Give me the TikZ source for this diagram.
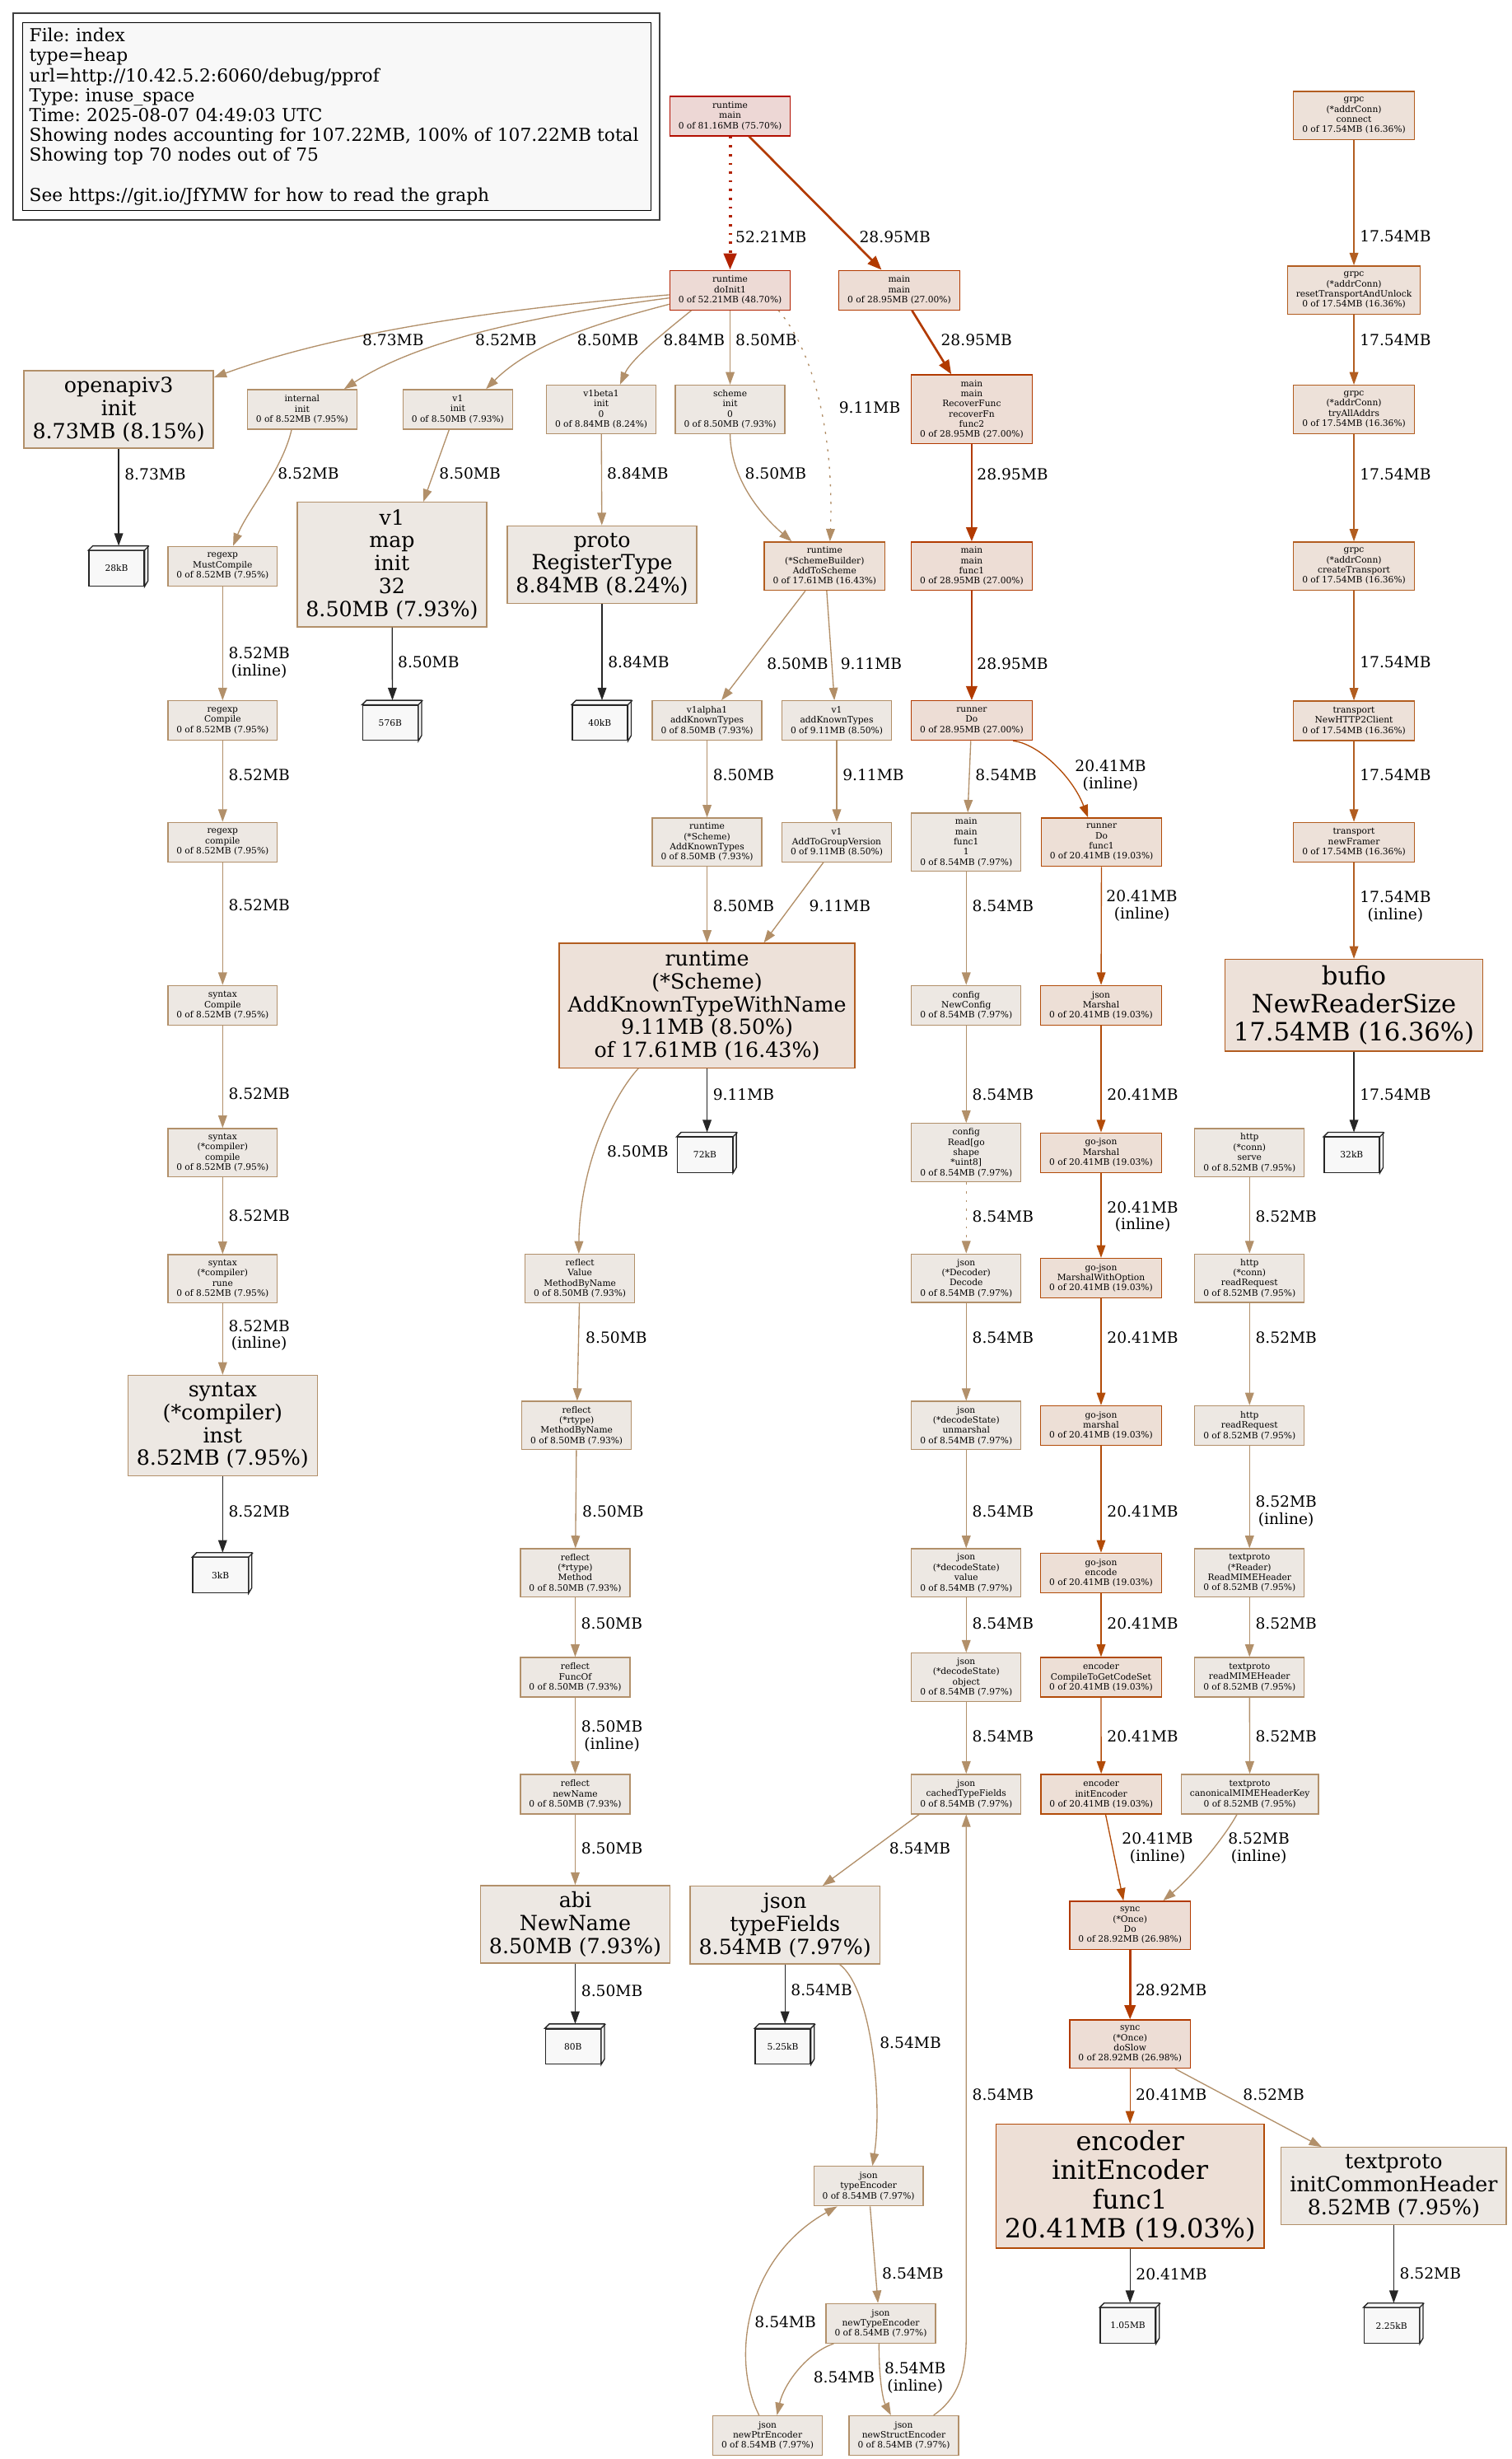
\documentclass[tikz,border=0pt]{standalone}
\usepackage{fontspec}
\setmainfont{DejaVu Serif}
\usetikzlibrary{arrows.meta}
\definecolor{nodelet}{HTML}{F8F8F8}
\definecolor{rmD}{HTML}{B20E00}\definecolor{rmF}{HTML}{EDD7D5}
\definecolor{diD}{HTML}{B22200}\definecolor{diF}{HTML}{EDDAD5}
\definecolor{k27D}{HTML}{B23A00}\definecolor{k27F}{HTML}{EDDDD5}
\definecolor{k19D}{HTML}{B24B08}\definecolor{k19F}{HTML}{EDDFD6}
\definecolor{k16D}{HTML}{B25D20}\definecolor{k16F}{HTML}{EDE1D9}
\definecolor{k8D}{HTML}{B2906A}\definecolor{k8F}{HTML}{EDE8E3}
\definecolor{k9D}{HTML}{B28E66}
\frenchspacing
\newcommand\pfs{\fontsize{5.6}{6.5}\selectfont}
\newcommand\pfl{\fontsize{9.8}{10.8}\selectfont}
\newcommand\pfb{\fontsize{13.3}{14.63}\selectfont}
\newcommand\pfbu{\fontsize{16.1}{17.7}\selectfont}
\newcommand\pfen{\fontsize{16.8}{18.5}\selectfont}
\newcommand\pfleg{\fontsize{11.4}{12.7}\selectfont\frenchspacing}
\tikzset{
  nb/.style={draw, line width=0.7pt, align=center, inner xsep=5.5pt, inner ysep=0pt, minimum width=37.8pt},
  s3/.style={nb, font=\pfs, minimum height=25.2pt},
  s4/.style={nb, font=\pfs, minimum height=30.8pt},
  s5/.style={nb, font=\pfs, minimum height=37.2pt},
  s6/.style={nb, font=\pfs, minimum height=44pt},
  b3/.style={nb, font=\pfb, minimum height=49.4pt},
  b4/.style={nb, font=\pfb, minimum height=64pt},
  b5/.style={nb, font=\pfb, minimum height=79.4pt},
  rm/.style={draw=rmD, fill=rmF},
  di/.style={draw=diD, fill=diF},
  k27/.style={draw=k27D, fill=k27F},
  k19/.style={draw=k19D, fill=k19F},
  k16/.style={draw=k16D, fill=k16F},
  k8/.style={draw=k8D, fill=k8F},
  k9/.style={draw=k9D, fill=k8F},
  cube/.style={draw=black!85, fill=nodelet, line width=0.7pt, font=\pfs, inner sep=0pt, minimum width=35.2pt, minimum height=22.4pt},
  cubeside/.style={draw=black!85, fill=nodelet, line width=0.7pt},
  lab/.style={font=\pfl, inner sep=0pt, anchor=west, align=center},
  ea/.style={line width=0.7pt, -{Triangle[length=8pt,width=5.6pt]}},
  e8/.style={ea, draw=k8D},
  e9/.style={ea, draw=k9D},
  e17/.style={ea, draw=k16D},
  e20/.style={ea, draw=k19D},
  ek/.style={ea, draw=black!85},
  e29/.style={line width=1.4pt, draw=k27D, -{Triangle[length=9pt,width=7pt]}},
  e52/.style={line width=2.1pt, draw=diD, -{Triangle[length=10.5pt,width=8pt]}},
  dots/.style={dash pattern=on 1.4pt off 4.2pt},
}
\newcommand\pcube[4]{%
  \node[cube] (#1) at ({#2-1.4},{#3+1.4}) {#4};
  \filldraw[cubeside] (#1.north west) -- ++(2.8,-2.8) -- ++(35.2,0) -- ++(0,22.4) -- (#1.south east) -- (#1.north east) -- cycle;
  \draw[cubeside] (#1.north east) -- ++(2.8,-2.8);
}
\begin{document}
\begin{tikzpicture}[x=1pt,y=-1pt]
\fill[white] (0,0) rectangle (964,1568);
\useasboundingbox (0,0) rectangle (964,1568);

% legend
\node[draw=black, fill=nodelet, line width=0.7pt, anchor=north west, align=left, text width=392pt, inner xsep=4.4pt, inner ysep=0pt, minimum height=120pt, font=\pfleg] (legend) at (14,14) {File: index\\type=heap\\url=http://10.42.5.2:6060/debug/pprof\\Type: inuse\_space\\Time: 2025-08-07 04:49:03 UTC\\Showing nodes accounting for 107.22MB, 100\% of 107.22MB total\\Showing top 70 nodes out of 75\\[12.7pt]See https://git.io/JfYMW for how to read the graph};
\draw[black!75, line width=0.9pt] ([shift={(-5.6,-5.6)}]legend.north west) rectangle ([shift={(5.4,5.4)}]legend.south east);

% nodes
\node[s3,rm] (rmain) at (465.7,74) {runtime\\main\\0 of 81.16MB (75.70\%)};
\node[s3,di] (doinit) at (465.7,185) {runtime\\doInit1\\0 of 52.21MB (48.70\%)};
\node[s3,k27] (mainmain) at (573.6,185) {main\\main\\0 of 28.95MB (27.00\%)};
\node[s4,k16] (connect) at (863.6,73.7) {grpc\\(*addrConn)\\connect\\0 of 17.54MB (16.36\%)};
\node[s4,k16] (reset) at (863.6,185) {grpc\\(*addrConn)\\resetTransportAndUnlock\\0 of 17.54MB (16.36\%)};
\node[b3,k8] (openapi) at (75.7,261) {openapiv3\\init\\8.73MB (8.15\%)};
\node[s3,k8] (internal) at (192.7,261) {internal\\init\\0 of 8.52MB (7.95\%)};
\node[s3,k8] (v1init) at (292,261) {v1\\init\\0 of 8.50MB (7.93\%)};
\node[s4,k8] (v1beta) at (383.5,261) {v1beta1\\init\\0\\0 of 8.84MB (8.24\%)};
\node[s4,k8] (scheme) at (465.7,261) {scheme\\init\\0\\0 of 8.50MB (7.93\%)};
\node[s6,k27] (func2) at (619.8,261) {main\\main\\RecoverFunc\\recoverFn\\func2\\0 of 28.95MB (27.00\%)};
\node[s4,k16] (tryall) at (863.6,261) {grpc\\(*addrConn)\\tryAllAddrs\\0 of 17.54MB (16.36\%)};
\pcube{c28}{75.7}{361}{28kB}
\node[s3,k8] (mustc) at (142,361) {regexp\\MustCompile\\0 of 8.52MB (7.95\%)};
\node[b5,k8] (map) at (250,360) {v1\\map\\init\\32\\8.50MB (7.93\%)};
\node[b3,k8] (proto) at (384,360) {proto\\RegisterType\\8.84MB (8.24\%)};
\node[s4,k16] (addsch) at (526,361) {runtime\\(*SchemeBuilder)\\AddToScheme\\0 of 17.61MB (16.43\%)};
\node[s4,k27] (mfunc1) at (619.8,361) {main\\main\\func1\\0 of 28.95MB (27.00\%)};
\node[s4,k16] (createt) at (863.6,361) {grpc\\(*addrConn)\\createTransport\\0 of 17.54MB (16.36\%)};
\node[s3,k8] (recomp) at (142,459.5) {regexp\\Compile\\0 of 8.52MB (7.95\%)};
\pcube{c576}{250.3}{459.5}{576B}
\pcube{c40}{384}{459.5}{40kB}
\node[s3,k8] (v1alpha) at (451,459.5) {v1alpha1\\addKnownTypes\\0 of 8.50MB (7.93\%)};
\node[s3,k9] (v1akt) at (533.7,459.5) {v1\\addKnownTypes\\0 of 9.11MB (8.50\%)};
\node[s3,k27] (rundo) at (619.8,459.5) {runner\\Do\\0 of 28.95MB (27.00\%)};
\node[s3,k16] (http2) at (863.6,459.6) {transport\\NewHTTP2Client\\0 of 17.54MB (16.36\%)};
\node[s3,k8] (recomp2) at (142,537) {regexp\\compile\\0 of 8.52MB (7.95\%)};
\node[s4,k8] (akt) at (451,537) {runtime\\(*Scheme)\\AddKnownTypes\\0 of 8.50MB (7.93\%)};
\node[s3,k9] (atgv) at (533.7,537) {v1\\AddToGroupVersion\\0 of 9.11MB (8.50\%)};
\node[s5,k8] (mf11) at (616.3,537) {main\\main\\func1\\1\\0 of 8.54MB (7.97\%)};
\node[s4,k19] (rdf1) at (702.6,537) {runner\\Do\\func1\\0 of 20.41MB (19.03\%)};
\node[s3,k16] (framer) at (863.6,537) {transport\\newFramer\\0 of 17.54MB (16.36\%)};
\node[s3,k8] (sxcomp) at (142,641) {syntax\\Compile\\0 of 8.52MB (7.95\%)};
\node[b5,k16] (aktwn) at (451,641.2) {runtime\\(*Scheme)\\AddKnownTypeWithName\\9.11MB (8.50\%)\\of 17.61MB (16.43\%)};
\node[s3,k8] (newcfg) at (616.3,641) {config\\NewConfig\\0 of 8.54MB (7.97\%)};
\node[s3,k19] (jmarsh) at (702.3,641) {json\\Marshal\\0 of 20.41MB (19.03\%)};
\node[nb,k16,font=\pfbu,minimum height=58.6pt] (bufio) at (863.6,641) {bufio\\NewReaderSize\\17.54MB (16.36\%)};
\node[s4,k8] (cccomp) at (142,735) {syntax\\(*compiler)\\compile\\0 of 8.52MB (7.95\%)};
\pcube{c72}{451}{735}{72kB}
\node[s5,k8] (cfgread) at (616.3,735) {config\\Read[go\\shape\\{}*uint8]\\0 of 8.54MB (7.97\%)};
\node[s3,k19] (gjm) at (702.3,735) {go-json\\Marshal\\0 of 20.41MB (19.03\%)};
\node[s4,k8] (serve) at (797,735) {http\\(*conn)\\serve\\0 of 8.52MB (7.95\%)};
\pcube{c32}{863.6}{735}{32kB}
\node[s4,k8] (rune) at (142,815.4) {syntax\\(*compiler)\\rune\\0 of 8.52MB (7.95\%)};
\node[s4,k8] (rvmbn) at (369.9,815.2) {reflect\\Value\\MethodByName\\0 of 8.50MB (7.93\%)};
\node[s4,k8] (decode) at (616.3,815) {json\\(*Decoder)\\Decode\\0 of 8.54MB (7.97\%)};
\node[s3,k19] (mwo) at (702.3,815) {go-json\\MarshalWithOption\\0 of 20.41MB (19.03\%)};
\node[s4,k8] (connrr) at (797,815) {http\\(*conn)\\readRequest\\0 of 8.52MB (7.95\%)};
\node[b4,k8] (inst) at (142,909) {syntax\\(*compiler)\\inst\\8.52MB (7.95\%)};
\node[s4,k8] (rtmbn) at (367.8,909) {reflect\\(*rtype)\\MethodByName\\0 of 8.50MB (7.93\%)};
\node[s4,k8] (unmarsh) at (616.3,909) {json\\(*decodeState)\\unmarshal\\0 of 8.54MB (7.97\%)};
\node[s3,k19] (gjm2) at (702.3,909) {go-json\\marshal\\0 of 20.41MB (19.03\%)};
\node[s3,k8] (httprr) at (797,909) {http\\readRequest\\0 of 8.52MB (7.95\%)};
\pcube{c3}{142}{1003}{3kB}
\node[s4,k8] (rtmeth) at (366.9,1003) {reflect\\(*rtype)\\Method\\0 of 8.50MB (7.93\%)};
\node[s4,k8] (jvalue) at (616.3,1003) {json\\(*decodeState)\\value\\0 of 8.54MB (7.97\%)};
\node[s3,k19] (gjenc) at (702.3,1003) {go-json\\encode\\0 of 20.41MB (19.03\%)};
\node[s4,k8] (rmime) at (797,1003) {textproto\\(*Reader)\\ReadMIMEHeader\\0 of 8.52MB (7.95\%)};
\node[s3,k8] (funcof) at (366.9,1069.5) {reflect\\FuncOf\\0 of 8.50MB (7.93\%)};
\node[s4,k8] (jobject) at (616.3,1069.5) {json\\(*decodeState)\\object\\0 of 8.54MB (7.97\%)};
\node[s3,k19] (ctgcs) at (702.3,1069.5) {encoder\\CompileToGetCodeSet\\0 of 20.41MB (19.03\%)};
\node[s3,k8] (rmime2) at (797,1069.5) {textproto\\readMIMEHeader\\0 of 8.52MB (7.95\%)};
\node[s3,k8] (newname) at (366.9,1144) {reflect\\newName\\0 of 8.50MB (7.93\%)};
\node[s3,k8] (ctf) at (616.3,1144) {json\\cachedTypeFields\\0 of 8.54MB (7.97\%)};
\node[s3,k19] (initenc) at (702.4,1144) {encoder\\initEncoder\\0 of 20.41MB (19.03\%)};
\node[s3,k8] (canon) at (797.2,1144) {textproto\\canonicalMIMEHeaderKey\\0 of 8.52MB (7.95\%)};
\node[b3,k8] (abi) at (366.9,1227) {abi\\NewName\\8.50MB (7.93\%)};
\node[b3,k8] (typefields) at (500.7,1227.5) {json\\typeFields\\8.54MB (7.97\%)};
\node[s4,k27] (oncedo) at (720.8,1227.7) {sync\\(*Once)\\Do\\0 of 28.92MB (26.98\%)};
\pcube{c80}{366.9}{1303.5}{80B}
\pcube{c525}{500.7}{1303.5}{5.25kB}
\node[s4,k27] (doslow) at (720.8,1303.4) {sync\\(*Once)\\doSlow\\0 of 28.92MB (26.98\%)};
\node[s3,k8] (typeenc) at (554,1394) {json\\typeEncoder\\0 of 8.54MB (7.97\%)};
\node[nb,k19,font=\pfen,minimum height=79pt] (encf1) at (720.8,1394) {encoder\\initEncoder\\func1\\20.41MB (19.03\%)};
\node[b3,k8] (initch) at (889,1394) {textproto\\initCommonHeader\\8.52MB (7.95\%)};
\node[s3,k8] (newtenc) at (561.8,1481.5) {json\\newTypeEncoder\\0 of 8.54MB (7.97\%)};
\pcube{c105}{720.8}{1481.5}{1.05MB}
\pcube{c225}{889}{1481.5}{2.25kB}
\node[s3,k8] (newptr) at (489.6,1553) {json\\newPtrEncoder\\0 of 8.54MB (7.97\%)};
\node[s3,k8] (newstruct) at (576.5,1553) {json\\newStructEncoder\\0 of 8.54MB (7.97\%)};

% edges: top
\draw[e52,dots] (rmain) -- (doinit);
\draw[e29] ([xshift=12.1pt]rmain.south) -- ([xshift=-11.3pt]mainmain.north);
\draw[e8] ([yshift=-3pt]doinit.west) .. controls (330,196) and (220,210) .. ([yshift=-4.7pt]openapi.north east);
\draw[e8] ([yshift=-5pt]doinit.west) .. controls (350,200) and (270,215) .. ([xshift=26.8pt]internal.north);
\draw[e8] ([yshift=-9pt]doinit.west) .. controls (385,205) and (340,218) .. ([xshift=18pt]v1init.north);
\draw[e8] ([xshift=-24.7pt]doinit.south) .. controls (430,207) and (403,228) .. ([xshift=12pt]v1beta.north);
\draw[e8] (doinit) -- (scheme);
\draw[e9,dots] ([xshift=30.8pt]doinit.south) .. controls (520,225) and (532,280) .. ([xshift=3.4pt]addsch.north);
\draw[e29] ([xshift=8.1pt]mainmain.south) -- ([xshift=-13pt]func2.north);
\draw[e29] (func2) -- (mfunc1);
\draw[e29] (mfunc1) -- (rundo);
\draw[e8] ([xshift=-0.6pt]rundo.south) -- ([xshift=1pt]mf11.north);
\draw[e20] ([xshift=26.4pt]rundo.south) .. controls (662,474) and (684,495) .. ([xshift=-8.6pt]rdf1.north);
% grpc
\draw[e17] (connect) -- (reset);
\draw[e17] (reset) -- (tryall);
\draw[e17] (tryall) -- (createt);
\draw[e17] (createt) -- (http2);
\draw[e17] (http2) -- (framer);
\draw[e17] (framer) -- (bufio);
\draw[ek] (bufio) -- ([xshift=1.4pt,yshift=2.8pt]c32.north);
% left
\draw[ek] (openapi) -- ([xshift=1.4pt,yshift=2.8pt]c28.north);
\draw[e8] ([xshift=-6.7pt]internal.south) .. controls (180,300) and (158,325) .. ([xshift=6.7pt]mustc.north);
\draw[e8] (mustc) -- (recomp);
\draw[e8] (recomp) -- (recomp2);
\draw[e8] (recomp2) -- (sxcomp);
\draw[e8] (sxcomp) -- (cccomp);
\draw[e8] (cccomp) -- (rune);
\draw[e8] (rune) -- (inst);
\draw[ek] (inst) -- ([xshift=1.4pt,yshift=2.8pt]c3.north);
\draw[e8] ([xshift=-5.5pt]v1init.south) -- ([xshift=20pt]map.north);
\draw[ek] (map) -- ([xshift=1.4pt,yshift=2.8pt]c576.north);
\draw[e8] (v1beta) -- (proto);
\draw[ek] (proto) -- ([xshift=1.4pt,yshift=2.8pt]c40.north);
\draw[e8] (scheme.south) .. controls (466,305) and (485,328) .. ([xshift=-21pt]addsch.north);
\draw[e8] ([xshift=-12.3pt]addsch.south) -- ([xshift=9.2pt]v1alpha.north);
\draw[e9] ([xshift=1.3pt]addsch.south) -- ([xshift=-1.5pt]v1akt.north);
\draw[e8] (v1alpha) -- (akt);
\draw[e9] (v1akt) -- (atgv);
\draw[e8] (akt) -- (aktwn);
\draw[e9] ([xshift=-8.5pt]atgv.south) -- ([xshift=36.2pt]aktwn.north);
\draw[ek] (aktwn) -- ([xshift=1.4pt,yshift=2.8pt]c72.north);
\draw[e8] ([xshift=-43.8pt]aktwn.south) .. controls (390,700) and (369.5,745) .. ([xshift=-0.7pt]rvmbn.north);
\draw[e8] (rvmbn) -- (rtmbn);
\draw[e8] (rtmbn) -- (rtmeth);
\draw[e8] (rtmeth) -- (funcof);
\draw[e8] (funcof) -- (newname);
\draw[e8] (newname) -- (abi);
\draw[ek] (abi) -- ([xshift=1.4pt,yshift=2.8pt]c80.north);
% json
\draw[e8] (mf11) -- (newcfg);
\draw[e8] (newcfg) -- (cfgread);
\draw[e8,dots] (cfgread) -- (decode);
\draw[e8] (decode) -- (unmarsh);
\draw[e8] (unmarsh) -- (jvalue);
\draw[e8] (jvalue) -- (jobject);
\draw[e8] (jobject) -- (ctf);
\draw[e8] ([xshift=-30pt]ctf.south) -- ([xshift=24pt]typefields.north);
\draw[ek] (typefields) -- ([xshift=1.4pt,yshift=2.8pt]c525.north);
\draw[e8] ([xshift=34.8pt]typefields.south) .. controls (556,1268) and (563,1340) .. ([xshift=2.5pt]typeenc.north);
\draw[e8] ([xshift=1pt]typeenc.south) -- ([xshift=-1.8pt]newtenc.north);
\draw[e8] ([xshift=-30pt]newtenc.south) .. controls (515,1500) and (500,1520) .. ([xshift=6pt]newptr.north);
\draw[e8] ([xshift=-1.1pt]newtenc.south) .. controls (560.5,1515) and (563,1530) .. ([xshift=-8.2pt]newstruct.north);
\draw[e8] ([xshift=-5.4pt]newptr.north) .. controls (466,1505) and (475,1440) .. ([xshift=-20pt]typeenc.south);
\draw[e8] ([xshift=19pt]newstruct.north) .. controls (610,1530) and (616.3,1515) .. (616.3,1490) -- (ctf.south);
% go-json
\draw[e20] (rdf1) -- (jmarsh);
\draw[e20] (jmarsh) -- (gjm);
\draw[e20] (gjm) -- (mwo);
\draw[e20] (mwo) -- (gjm2);
\draw[e20] (gjm2) -- (gjenc);
\draw[e20] (gjenc) -- (ctgcs);
\draw[e20] (ctgcs) -- (initenc);
\draw[e20] ([xshift=2.8pt]initenc.south) -- ([xshift=-4.2pt]oncedo.north);
\draw[e29] (oncedo) -- (doslow);
\draw[e20] (doslow) -- (encf1);
\draw[ek] (encf1) -- ([xshift=1.4pt,yshift=2.8pt]c105.north);
\draw[e8] ([xshift=28.7pt]doslow.south) -- ([xshift=-46pt]initch.north);
\draw[ek] (initch) -- ([xshift=1.4pt,yshift=2.8pt]c225.north);
% http
\draw[e8] (serve) -- (connrr);
\draw[e8] (connrr) -- (httprr);
\draw[e8] (httprr) -- (rmime);
\draw[e8] (rmime) -- (rmime2);
\draw[e8] (rmime2) -- (canon);
\draw[e8] ([xshift=-8.2pt]canon.south) .. controls (782,1170) and (762,1195) .. ([xshift=21.1pt]oncedo.north);

% edge labels
\node[lab] (l1) at (469,151) {52.21MB};
\node[lab] (l2) at (548,151) {28.95MB};
\node[lab] (l3) at (231,217) {8.73MB};
\node[lab] (l4) at (303,217) {8.52MB};
\node[lab] (l5) at (368,217) {8.50MB};
\node[lab] (l6) at (423,217) {8.84MB};
\node[lab] (l7) at (469,217) {8.50MB};
\node[lab] (l8) at (535,260) {9.11MB};
\node[lab] (l9) at (600,217) {28.95MB};
\node[lab] (l10) at (867.2,150.4) {17.54MB};
\node[lab] (l11) at (867.2,217) {17.54MB};
\node[lab] (l12) at (79.3,302.5) {8.73MB};
\node[lab] (l13) at (177,302) {8.52MB};
\node[lab] (l14) at (280,302) {8.50MB};
\node[lab] (l15) at (387,302) {8.84MB};
\node[lab] (l16) at (475,302) {8.50MB};
\node[lab] (l17) at (623,302.6) {28.95MB};
\node[lab] (l18) at (867.2,302.6) {17.54MB};
\node[lab] (l19) at (145.6,422.6) {8.52MB\\(inline)};
\node[lab] (l20) at (253.6,422.3) {8.50MB};
\node[lab] (l21) at (387.6,422.3) {8.84MB};
\node[lab] (l22) at (489,423) {8.50MB};
\node[lab] (l23) at (536,423) {9.11MB};
\node[lab] (l24) at (623,423) {28.95MB};
\node[lab] (l25) at (867.2,422.4) {17.54MB};
\node[lab] (l26) at (145.6,494) {8.52MB};
\node[lab] (l27) at (454.6,494) {8.50MB};
\node[lab] (l28) at (537.3,494) {9.11MB};
\node[lab] (l29) at (622,494) {8.54MB};
\node[lab] (l30) at (685.5,494.5) {20.41MB\\(inline)};
\node[lab] (l31) at (867.2,494) {17.54MB};
\node[lab] (l32) at (145.6,577.3) {8.52MB};
\node[lab] (l33) at (454.6,577.7) {8.50MB};
\node[lab] (l34) at (516,577.7) {9.11MB};
\node[lab] (l35) at (620,577.7) {8.54MB};
\node[lab] (l36) at (705.5,577.5) {20.41MB\\(inline)};
\node[lab] (l37) at (867.2,578) {17.54MB\\(inline)};
\node[lab] (l38) at (145.6,697.5) {8.52MB};
\node[lab] (l39) at (454.6,697.8) {9.11MB};
\node[lab] (l40) at (620,697.8) {8.54MB};
\node[lab] (l41) at (706,697.8) {20.41MB};
\node[lab] (l42) at (867.2,697.8) {17.54MB};
\node[lab] (l43) at (387,734.3) {8.50MB};
\node[lab] (l44) at (145.6,775.2) {8.52MB};
\node[lab] (l45) at (620,775.6) {8.54MB};
\node[lab] (l46) at (706,775.9) {20.41MB\\(inline)};
\node[lab] (l47) at (800.6,775.6) {8.52MB};
\node[lab] (l48) at (145.6,851.5) {8.52MB\\(inline)};
\node[lab] (l49) at (373.4,853) {8.50MB};
\node[lab] (l50) at (620,852.7) {8.54MB};
\node[lab] (l51) at (706,852.7) {20.41MB};
\node[lab] (l52) at (800.6,852.7) {8.52MB};
\node[lab] (l53) at (145.6,963.5) {8.52MB};
\node[lab] (l54) at (371.3,963.5) {8.50MB};
\node[lab] (l55) at (620,963.5) {8.54MB};
\node[lab] (l56) at (706,963.5) {20.41MB};
\node[lab] (l57) at (800.6,963.7) {8.52MB\\(inline)};
\node[lab] (l58) at (370.5,1035) {8.50MB};
\node[lab] (l59) at (620,1035.2) {8.54MB};
\node[lab] (l60) at (706,1035.2) {20.41MB};
\node[lab] (l61) at (800.6,1035.2) {8.52MB};
\node[lab] (l62) at (370.6,1107) {8.50MB\\(inline)};
\node[lab] (l63) at (620,1107) {8.54MB};
\node[lab] (l64) at (706,1107) {20.41MB};
\node[lab] (l65) at (800.6,1107) {8.52MB};
\node[lab] (l66) at (370.6,1178.5) {8.50MB};
\node[lab] (l67) at (567,1178.6) {8.54MB};
\node[lab] (l68) at (715.5,1178.5) {20.41MB\\(inline)};
\node[lab] (l69) at (783.2,1178.5) {8.52MB\\(inline)};
\node[lab] (l70) at (724.2,1269) {28.92MB};
\node[lab] (l71) at (370.6,1269.5) {8.50MB};
\node[lab] (l72) at (504.3,1269) {8.54MB};
\node[lab] (l73) at (561,1302.5) {8.54MB};
\node[lab] (l74) at (620,1335.8) {8.54MB};
\node[lab] (l75) at (724.2,1335.8) {20.41MB};
\node[lab] (l76) at (792.7,1335.8) {8.52MB};
\node[lab] (l77) at (562.5,1449.7) {8.54MB};
\node[lab] (l78) at (724.4,1450) {20.41MB};
\node[lab] (l79) at (892.6,1449.5) {8.52MB};
\node[lab] (l80) at (481.2,1480.5) {8.54MB};
\node[lab] (l81) at (518.7,1516) {8.54MB};
\node[lab] (l82) at (564,1516.4) {8.54MB\\(inline)};
\end{tikzpicture}
\end{document}
